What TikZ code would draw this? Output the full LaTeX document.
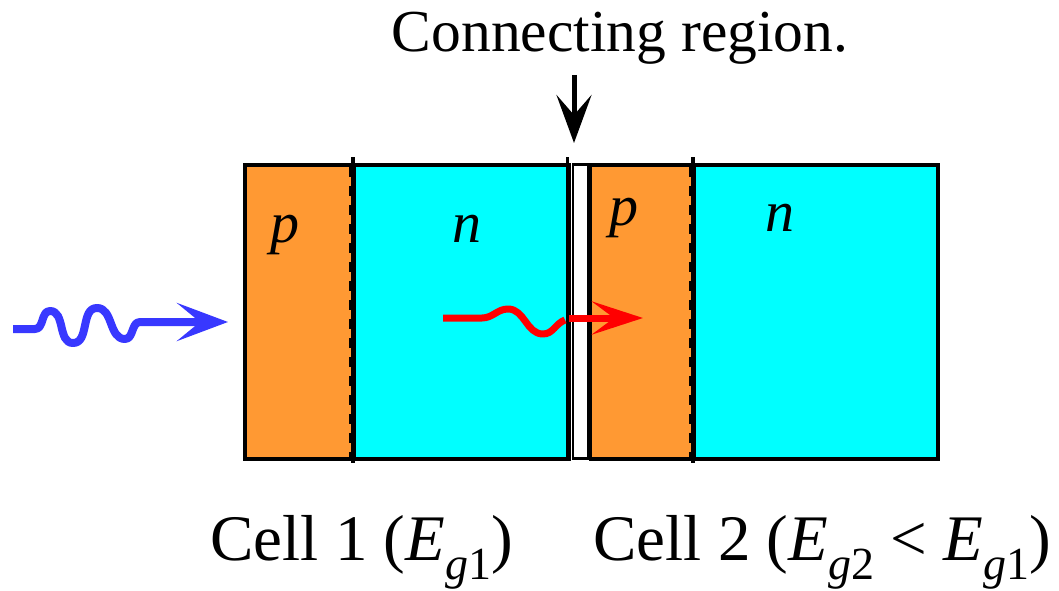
\documentclass[tikz,border=0pt]{standalone}
\usepackage{fontspec}
\setmainfont{Liberation Serif}
\usetikzlibrary{positioning, arrows.meta}

\newcommand{\subg}[1]{\raisebox{-0.3em}{\fontsize{46}{46}\selectfont\textit{g}#1}}

\begin{document}
\begin{tikzpicture}[x=1pt, y=-1pt,
    capa/.style={draw, line width=3.5pt, inner sep=0pt, anchor=north west},
    union/.style={line width=3.5pt},
    unionrayas/.style={line width=2.5pt, dash pattern=on 10pt off 9pt},
    etiq/.style={anchor=base, font=\fontsize{58}{60}\selectfont\itshape},
    celda/.style={anchor=base west, font=\fontsize{65}{70}\selectfont},
    onda/.style={line width=7pt, line join=round}]

\definecolor{cP}{HTML}{FF9933}
\definecolor{cN}{HTML}{00FFFF}
\definecolor{cLuz}{HTML}{3838FF}
\definecolor{cRoja}{HTML}{FF0000}

\useasboundingbox (0,0) rectangle (1059,591);

\pgfmathsetmacro{\yt}{163}
\pgfmathsetmacro{\rh}{294}
\pgfmathsetmacro{\xA}{243}
\pgfmathsetmacro{\xB}{352}
\pgfmathsetmacro{\xC}{567}
\pgfmathsetmacro{\xD}{571.5}
\pgfmathsetmacro{\xE}{586.5}
\pgfmathsetmacro{\xF}{692}
\pgfmathsetmacro{\xG}{936}

% CAPAS (celda 1, puente, celda 2)
\node[capa, fill=cP, minimum width=(\xB-\xA)*1pt, minimum height=\rh*1pt] (p1) at (\xA, \yt) {};
\node[capa, fill=cN, minimum width=(\xC-\xB)*1pt, minimum height=\rh*1pt] (n1) at (\xB, \yt) {};
\node[capa, line width=2.5pt, fill=white, minimum width=(\xE-\xD)*1pt, minimum height=\rh*1pt] (puente) at (\xD, \yt) {};
\node[capa, fill=cP, minimum width=(\xF-\xE-2)*1pt, minimum height=\rh*1pt] (p2) at (\xE+2, \yt) {};
\node[capa, fill=cN, minimum width=(\xG-\xF)*1pt, minimum height=\rh*1pt] (n2) at (\xF, \yt) {};

% Uniones p-n
\draw[union] (\xB+1, \yt-6) -- (\xB+1, \yt+\rh+6);
\draw[unionrayas] (\xB-2, \yt+4) -- (\xB-2, \yt+\rh);
\draw[union] (\xF+1, \yt-6) -- (\xF+1, \yt+\rh+6);
\draw[unionrayas] (\xF-2, \yt+4) -- (\xF-2, \yt+\rh);
\draw[line width=3pt] (\xC, \yt-6) -- (\xC, \yt+\rh+4);

% Etiquetas de capas
\node[etiq] (lp1) at (285, 242) {p};
\node[etiq] (ln1) at (467, 242) {n};
\node[etiq] (lp2) at (624, 225) {p};
\node[etiq] (ln2) at (780, 231) {n};

% Region de conexion
\node[anchor=base, font=\fontsize{59.5}{62}\selectfont] (region) at (620, 52) {Connecting region.};
\coordinate (flechaA) at (574, 75);
\coordinate (flechaB) at (574, 143);
\draw[line width=5pt, -{Stealth[length=48pt, width=35pt, inset=20pt]}] (flechaA) -- (flechaB);

% Luz incidente
\coordinate (luzA) at (13, 329);
\coordinate (luzB) at (228, 322);
\draw[onda, line width=8pt, cLuz, -{Stealth[length=51pt, width=38pt, inset=23pt]}] (luzA) -- (35, 329)
    to[out=0, in=180] (50, 311) to[out=0, in=180] (73, 343)
    to[out=0, in=180] (97, 308) to[out=0, in=180] (125, 339)
    to[out=0, in=180] (140, 322) -- (luzB);

% Luz transmitida
\coordinate (rojaA) at (443, 318);
\coordinate (rojaB) at (565, 320);
\coordinate (rojaC) at (569, 318);
\coordinate (rojaD) at (643, 318);
\draw[onda, cRoja] (rojaA) -- (482, 318) to[out=0, in=180] (508, 309)
    to[out=0, in=180] (543, 334) to[out=0, in=200] (rojaB);
\draw[onda, cRoja, -{Stealth[length=51pt, width=33pt, inset=22pt]}] (rojaC) -- (rojaD);

% Nombres de celdas
\node[celda] (cel1) at (207, 560) {Cell 1 (\textit{E}\subg{1})};
\node[celda] (cel2) at (590, 560) {Cell 2 (\textit{E}\subg{2} < \textit{E}\subg{1})};

\end{tikzpicture}
\end{document}
